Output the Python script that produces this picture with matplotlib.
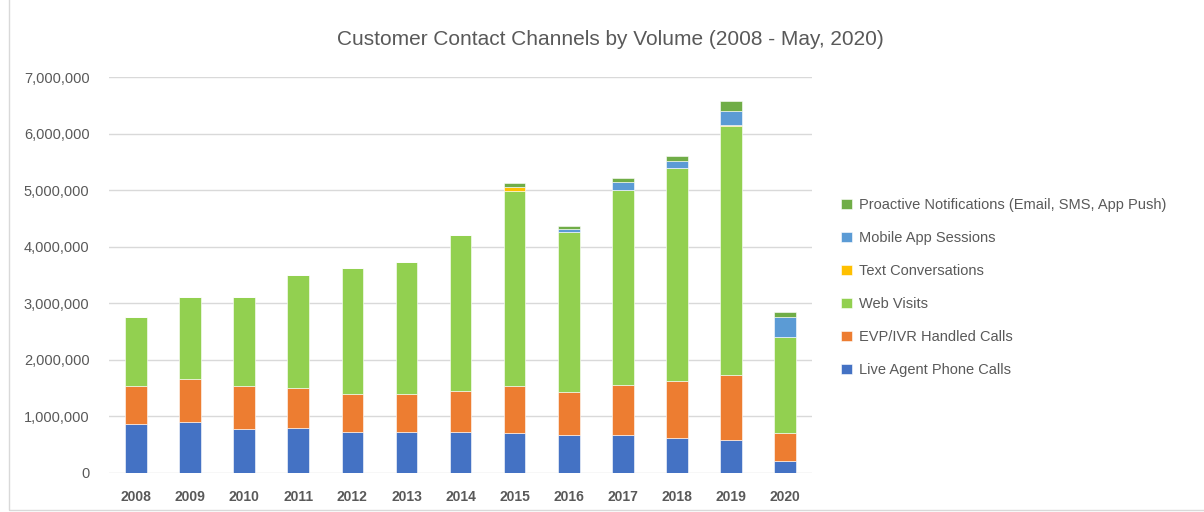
import matplotlib.pyplot as plt
import matplotlib.ticker as mticker
from matplotlib.patches import Rectangle
import numpy as np

years = ['2008', '2009', '2010', '2011', '2012', '2013', '2014',
         '2015', '2016', '2017', '2018', '2019', '2020']

# segment volumes, millions
live_agent = [0.86, 0.91, 0.78, 0.80, 0.73, 0.73, 0.73, 0.70, 0.67, 0.68, 0.62, 0.59, 0.21]
evp_ivr = [0.67, 0.75, 0.75, 0.71, 0.67, 0.67, 0.72, 0.83, 0.76, 0.88, 1.01, 1.15, 0.49]
web_visits = [1.22, 1.45, 1.58, 1.99, 2.23, 2.33, 2.75, 3.45, 2.83, 3.44, 3.76, 4.39, 1.71]
text_conv = [0, 0, 0, 0, 0, 0, 0, 0.07, 0, 0, 0, 0.02, 0]
mobile_app = [0, 0, 0, 0, 0, 0, 0, 0, 0.05, 0.14, 0.13, 0.25, 0.34]
proactive = [0, 0, 0, 0, 0, 0, 0, 0.08, 0.05, 0.07, 0.08, 0.18, 0.10]

series = [
    ("Live Agent Phone Calls", live_agent, '#4472C4'),
    ("EVP/IVR Handled Calls", evp_ivr, '#ED7D31'),
    ("Web Visits", web_visits, '#92D050'),
    ("Text Conversations", text_conv, '#FFC000'),
    ("Mobile App Sessions", mobile_app, '#5B9BD5'),
    ("Proactive Notifications (Email, SMS, App Push)", proactive, '#70AD47'),
]

plt.rcParams['font.family'] = ['Liberation Sans', 'DejaVu Sans']
txt = '#595959'

fig = plt.figure(figsize=(12.04, 5.12), dpi=100)
ax = fig.add_axes([0.0905, 0.0762, 0.584, 0.7734])

x = np.arange(len(years))
bottom = np.zeros(len(years))
handles = []
for name, vals, col in series:
    v = np.array(vals) * 1e6
    b = ax.bar(x, v, 0.4, bottom=bottom, color=col, label=name,
               edgecolor='white', linewidth=0.4, zorder=3)
    handles.append(b)
    bottom += v

ax.set_xlim(-0.5, len(years) - 0.5)
ax.set_ylim(0, 7e6)
ax.set_yticks(np.arange(0, 7.01e6, 1e6))
ax.yaxis.set_major_formatter(mticker.FuncFormatter(lambda v, p: f'{int(v):,}'))
ax.set_xticks(x)
ax.set_xticklabels(years, fontweight='bold')
ax.tick_params(length=0, colors=txt, labelsize=10)
ax.tick_params(axis='y', pad=14, labelsize=10.5)
ax.tick_params(axis='x', pad=12)
ax.grid(axis='y', color='#d9d9d9', linewidth=1, zorder=0)
for s in ax.spines.values():
    s.set_visible(False)

fig.text(0.507, 0.922, "Customer Contact Channels by Volume (2008 - May, 2020)",
         ha='center', va='center', fontsize=15, color=txt)

leg = fig.legend(handles[::-1], [s[0] for s in series][::-1],
                 loc='upper left', bbox_to_anchor=(0.688, 0.639),
                 frameon=False, fontsize=10.5, labelcolor=txt,
                 handlelength=0.7, handleheight=0.7, handletextpad=0.5,
                 labelspacing=1.3)

fig.patches.append(Rectangle((9 / 1204, 2 / 512), 1.2, 1.2, transform=fig.transFigure,
                             fill=False, edgecolor='#d9d9d9', linewidth=1))

fig.savefig('out.png', dpi=100)
